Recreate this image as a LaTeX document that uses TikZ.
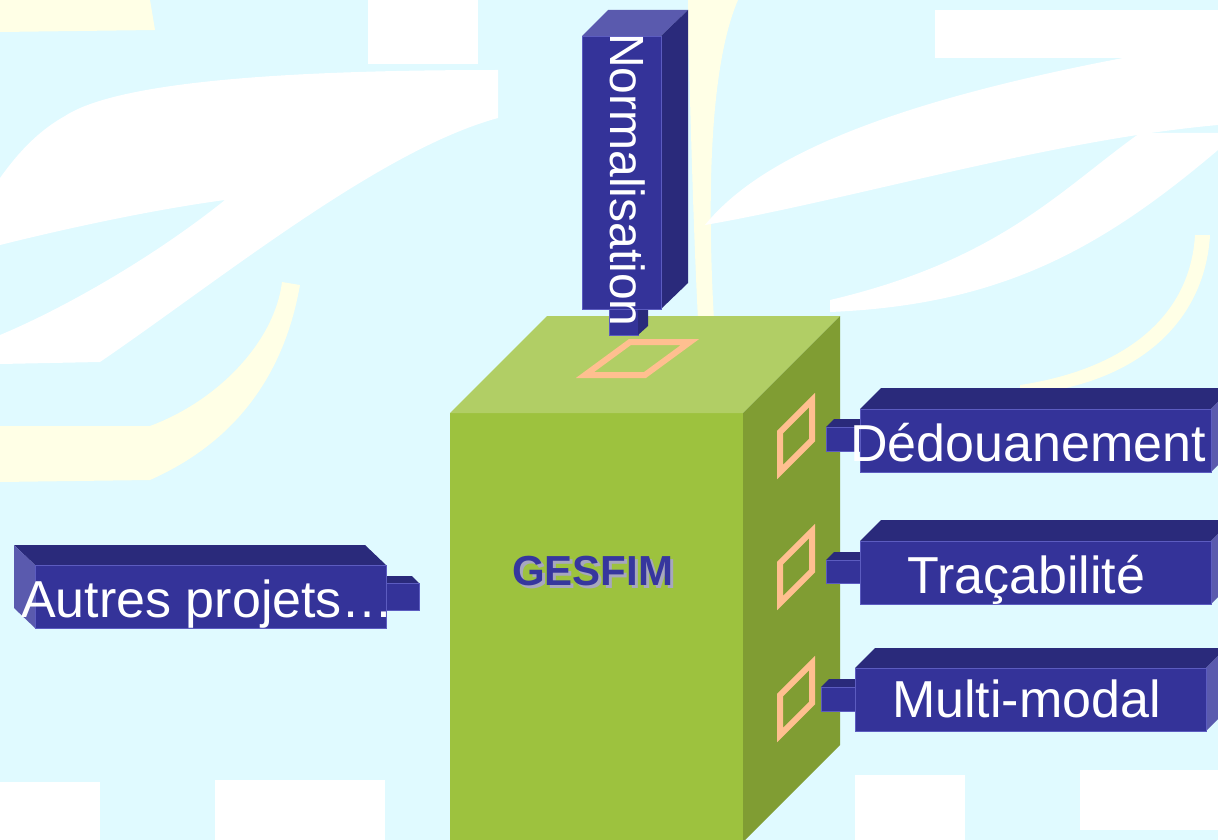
\documentclass[tikz,border=0pt]{standalone}
\usepackage{fontspec}
\setmainfont{Liberation Sans}
\definecolor{sky}{HTML}{E0FAFF}
\definecolor{cream}{HTML}{FFFFE6}
\definecolor{boxfront}{HTML}{9DC23E}
\definecolor{boxtop}{HTML}{B1CE65}
\definecolor{boxside}{HTML}{809D33}
\definecolor{barblue}{HTML}{343399}
\definecolor{bardark}{HTML}{2A2A7B}
\definecolor{barlight}{HTML}{5A5AAE}
\definecolor{baredge}{HTML}{5C5CC0}
\definecolor{peach}{HTML}{FFBF90}
\definecolor{gesfimblue}{HTML}{36369E}
\definecolor{gesfimshadow}{HTML}{A7A7BE}
\tikzset{
    front/.style={
           fill=barblue,
           draw=baredge, line width=0.7pt,
           },
    darkface/.style={fill=bardark},
    lightface/.style={fill=barlight},
    bartext/.style={
           text=white,
           inner sep=0pt,
           anchor=base west,
           font=\fontsize{52}{60}\selectfont,
           },
    slot/.style={draw=peach, line width=6pt},
}

\begin{document}
\begin{tikzpicture}[x=1pt,y=-1pt]
	\fill[sky] (0,0) rectangle (1218,840);
	\useasboundingbox (0,0) rectangle (1218,840);
	\clip (0,0) rectangle (1218,840);

	\fill[cream] (0,0) -- (150,0) -- (155,30) -- (0,32) -- cycle;
	\fill[cream] (282,282) .. controls (275,340) and (220,400) .. (150,426) -- (0,426) -- (0,482) -- (150,480) .. controls (240,440) and (285,370) .. (300,285) -- cycle;
	\fill[cream] (688,0) -- (738,0) .. controls (712,60) and (706,180) .. (714,320) -- (698,320) .. controls (692,200) and (690,80) .. (688,40) -- cycle;
	\fill[cream] (1195,235) .. controls (1190,320) and (1120,370) .. (1020,385) -- (1020,395) .. controls (1140,385) and (1205,320) .. (1210,235) -- cycle;
	\fill[white] (368,0) rectangle (478,64);
	\fill[white] (65,116) .. controls (120,80) and (300,70) .. (498,70) -- (498,118) .. controls (380,150) and (220,280) .. (100,362) -- (0,364) -- (0,335) .. controls (60,310) and (150,260) .. (225,200) .. controls (150,210) and (60,230) .. (0,245) -- (0,178) .. controls (20,150) and (40,130) .. (65,116) -- cycle;
	\fill[white] (935,10) rectangle (1218,58);
	\fill[white] (1123,58) -- (1218,58) -- (1218,125) .. controls (1050,140) and (850,200) .. (705,225) .. controls (750,170) and (850,110) .. (1123,58) -- cycle;
	\fill[white] (1140,133) .. controls (1060,190) and (1000,260) .. (830,300) -- (830,312) .. controls (1000,305) and (1100,250) .. (1218,150) -- (1218,133) -- cycle;
	\fill[white] (0,782) rectangle (100,840);
	\fill[white] (215,780) rectangle (385,840);
	\fill[white] (855,775) rectangle (965,840);
	\fill[white] (1080,770) rectangle (1218,830);

	\fill[boxfront] (450,413) rectangle (743,845);
	\fill[boxtop] (450,413) -- (547,316) -- (840,316) -- (743,413) -- cycle;
	\fill[boxside] (743,413) -- (840,316) -- (840,745) -- (743,842) -- cycle;

	\draw[slot] (585,375) -- (645,375) -- (690,342) -- (630,342) -- cycle;
	\draw[slot] (780,432) -- (780,472) -- (812,440) -- (812,400) -- cycle;
	\draw[slot] (780,563) -- (780,603) -- (812,571) -- (812,531) -- cycle;
	\draw[slot] (780,695) -- (780,735) -- (812,703) -- (812,663) -- cycle;

	\node[text=gesfimshadow, font=\fontsize{42}{48}\selectfont\bfseries, inner sep=0pt, anchor=base west] (gesfimshade) at (515,588) {GESFIM};
	\node[text=gesfimblue, font=\fontsize{42}{48}\selectfont\bfseries, inner sep=0pt, anchor=base west] (gesfim) at (512,585) {GESFIM};

	\fill[front] (609,300) rectangle (638,335);
	\fill[darkface] (638,309) -- (648,300) -- (648,326) -- (638,335) -- cycle;
	\fill[lightface] (582,36) -- (608,10) -- (688,10) -- (661,36) -- cycle;
	\fill[darkface] (661,36) -- (688,10) -- (688,283) -- (661,309) -- cycle;
	\filldraw[front] (582,36) rectangle (661,309);
	\node[bartext, font=\fontsize{48}{56}\selectfont, rotate=-90] (norm) at (610,33) {Normalisation};

	\fill[darkface] (826,427) -- (834,419) -- (860,419) -- (860,427) -- cycle;
	\filldraw[front] (826,427) rectangle (860,451);
	\fill[darkface] (860,409) -- (881,388) -- (1232,388) -- (1211,409) -- cycle;
	\fill[lightface] (1211,409) -- (1232,388) -- (1232,451) -- (1211,472) -- cycle;
	\filldraw[front] (860,409) rectangle (1211,472);
	\node[bartext] (dedouane) at (850,461) {Dédouanement};

	\fill[darkface] (826,560) -- (834,552) -- (860,552) -- (860,560) -- cycle;
	\filldraw[front] (826,560) rectangle (860,583);
	\fill[darkface] (860,541) -- (881,520) -- (1232,520) -- (1211,541) -- cycle;
	\fill[lightface] (1211,541) -- (1232,520) -- (1232,583) -- (1211,604) -- cycle;
	\filldraw[front] (860,541) rectangle (1211,604);
	\node[bartext] (traca) at (907,593) {Traçabilité};

	\fill[darkface] (821,687) -- (829,679) -- (855,679) -- (855,687) -- cycle;
	\filldraw[front] (821,687) rectangle (855,711);
	\fill[darkface] (855,668) -- (875,648) -- (1226,648) -- (1206,668) -- cycle;
	\fill[lightface] (1206,668) -- (1226,648) -- (1226,711) -- (1206,731) -- cycle;
	\filldraw[front] (855,668) rectangle (1206,731);
	\node[bartext] (multi) at (892,717) {Multi-modal};

	\fill[darkface] (386,576) -- (412,576) -- (419,583) -- (386,583) -- cycle;
	\filldraw[front] (386,583) rectangle (419,610);
	\fill[darkface] (14,545) -- (365,545) -- (386,565) -- (35,565) -- cycle;
	\fill[lightface] (14,545) -- (35,565) -- (35,628) -- (14,608) -- cycle;
	\filldraw[front] (35,565) rectangle (386,628);
	\node[bartext] (autres) at (21,617) {Autres projets…};
\end{tikzpicture}
\end{document}
